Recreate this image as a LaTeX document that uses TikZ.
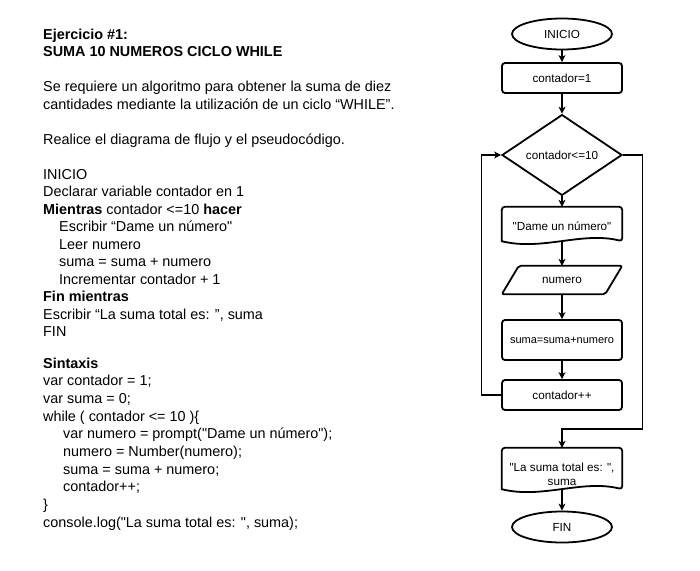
\documentclass[tikz,border=0pt]{standalone}
\usepackage{fontspec}
\setmainfont{Liberation Sans}[Ligatures=TeXOff]
\usetikzlibrary{shapes.geometric,arrows.meta}
\begin{document}
\begin{tikzpicture}[x=1pt,y=-1pt,
 txt/.style={anchor=base west,inner sep=0pt,font=\fontsize{14.4}{17.5}\selectfont},
 shp/.style={draw,line width=1.8pt},
 lbl/.style={font=\fontsize{11.7}{14}\selectfont,align=center},
 term/.style={shp,ellipse,lbl,minimum width=100pt,minimum height=31pt,inner sep=0pt},
 proc/.style={shp,rectangle,rounded corners=3pt,lbl,minimum width=120pt,inner sep=0pt},
 dec/.style={shp,diamond,lbl,minimum width=120pt,minimum height=79pt,inner sep=0pt},
 ghost/.style={lbl,minimum width=120pt,inner sep=0pt},
 conn/.style={line width=1.1pt,-{Stealth[length=7pt,width=7pt,inset=2pt]}}]
\useasboundingbox (0,0) rectangle (700,570);

% left text
\node[txt,font=\fontsize{14.4}{17.5}\selectfont\bfseries] (t1) at (43,39) {Ejercicio \#1:};
\node[txt,font=\fontsize{14.4}{17.5}\selectfont\bfseries] (t2) at (43,56.5) {SUMA 10 NUMEROS CICLO WHILE};
\node[txt] (t3) at (43,91.5) {Se requiere un algoritmo para obtener la suma de diez};
\node[txt] (t4) at (43,109) {cantidades mediante la utilización de un ciclo “WHILE”.};
\node[txt] (t5) at (43,144) {Realice el diagrama de flujo y el pseudocódigo.};
\node[txt] (t6) at (43,179) {INICIO};
\node[txt] (t7) at (43,196.5) {Declarar variable contador en 1};
\node[txt] (t8) at (43,214) {\textbf{Mientras} contador <=10 \textbf{hacer}};
\node[txt] (t9) at (59,231.5) {Escribir “Dame un número"};
\node[txt] (t10) at (59,249) {Leer numero};
\node[txt] (t11) at (59,266.5) {suma = suma + numero};
\node[txt] (t12) at (59,284) {Incrementar contador + 1};
\node[txt,font=\fontsize{14.4}{17.5}\selectfont\bfseries] (t13) at (43,301.5) {Fin mientras};
\node[txt] (t14) at (43,319) {Escribir “La suma total es: ”, suma};
\node[txt] (t15) at (43,336.5) {FIN};
\node[txt,font=\fontsize{14.4}{17.5}\selectfont\bfseries] (t16) at (43,368) {Sintaxis};
\node[txt] (t17) at (43,385.6) {var contador = 1;};
\node[txt] (t18) at (43,403.3) {var suma = 0;};
\node[txt] (t19) at (43,421) {while ( contador <= 10 )\{};
\node[txt] (t20) at (63,438.6) {var numero = prompt("Dame un número");};
\node[txt] (t21) at (63,456.3) {numero = Number(numero);};
\node[txt] (t22) at (63,474) {suma = suma + numero;};
\node[txt] (t23) at (63,491.5) {contador++;};
\node[txt] (t24) at (43,509.2) {\}};
\node[txt] (t25) at (43,527) {console.log("La suma total es: ", suma);};

% flowchart
\node[term] (inicio) at (562,34) {INICIO};
\node[proc,minimum height=30pt] (c1) at (562,78) {contador=1};
\node[dec] (cond) at (562,155) {contador<=10};
\node[ghost,minimum height=38pt] (dame) at (562,226) {"Dame un número"};
\draw[shp,rounded corners=3pt] ([yshift=4pt]dame.south west) -- (dame.north west) -- (dame.north east) -- ([yshift=4pt]dame.south east) [sharp corners] .. controls +(-40,-10) and +(40,10) .. ([yshift=4pt]dame.south west) -- cycle;
\node[ghost,minimum height=28pt] (numero) at (562,280) {numero};
\draw[shp,rounded corners=2pt] (numero.south west) -- ([xshift=17pt]numero.north west) -- (numero.north east) -- ([xshift=-17pt]numero.south east) -- cycle;
\node[proc,minimum height=40pt,font=\fontsize{11}{14}\selectfont] (suma) at (562,340) {suma=suma+numero};
\node[proc,minimum height=30pt] (cont) at (562,395) {contador++};
\node[ghost,minimum height=52pt] (total) at (562,474) {"La suma total es: ",\\suma};
\draw[shp,rounded corners=3pt] ([yshift=11pt]total.south west) -- (total.north west) -- (total.north east) -- ([yshift=11pt]total.south east) [sharp corners] .. controls +(-40,-10) and +(40,10) .. ([yshift=11pt]total.south west) -- cycle;
\node[term] (fin) at (562,527) {FIN};

\draw[conn] (inicio) -- (c1);
\draw[conn] (c1) -- (cond);
\draw[conn] (cond) -- (dame);
\draw[conn] ([yshift=4pt]dame.south) -- (numero);
\draw[conn] (numero) -- (suma);
\draw[conn] (suma) -- (cont);
\draw[conn] (cont.west) -- ++(-20,0) |- (cond.west);
\draw[conn] (cond.east) -- ++(20,0) -- ++(0,274) -| (total.north);
\draw[conn] ([yshift=11pt]total.south) -- (fin);
\end{tikzpicture}
\end{document}
